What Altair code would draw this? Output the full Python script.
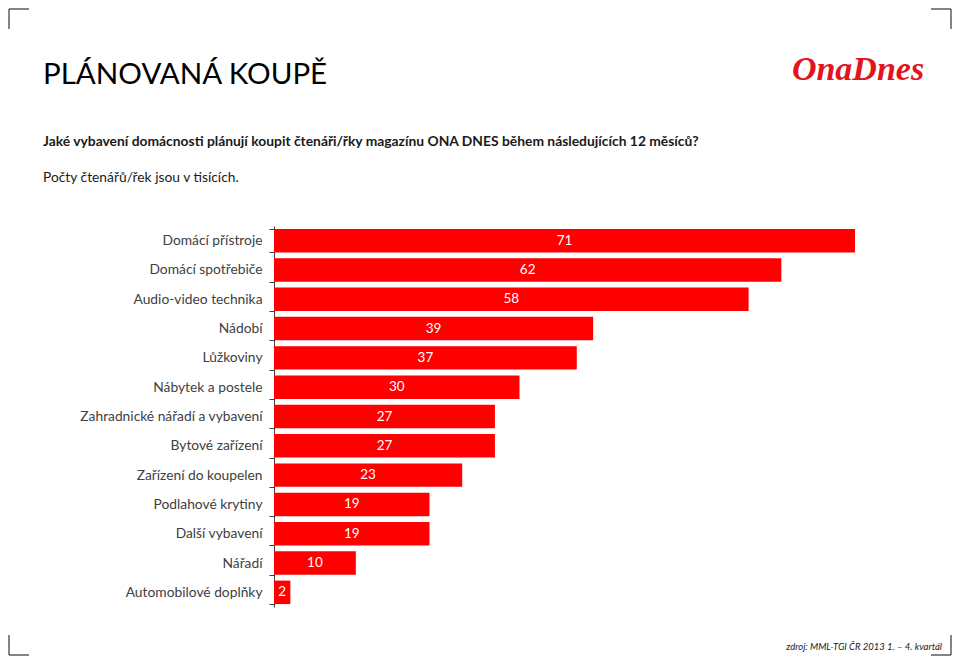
import altair as alt
import pandas as pd

categories = [
    "Domácí přístroje", "Domácí spotřebiče", "Audio-video technika", "Nádobí",
    "Lůžkoviny", "Nábytek a postele", "Zahradnické nářadí a vybavení",
    "Bytové zařízení", "Zařízení do koupelen", "Podlahové krytiny",
    "Další vybavení", "Nářadí", "Automobilové doplňky",
]
values = [71, 62, 58, 39, 37, 30, 27, 27, 23, 19, 19, 10, 2]

title_text = "PLÁNOVANÁ KOUPĚ"
question_text = "Jaké vybavení domácnosti plánují koupit čtenáři/řky magazínu ONA DNES během následujících 12 měsíců?"
subtitle_text = "Počty čtenářů/řek jsou v tisících."
logo_text = "OnaDnes"
source_text = "zdroj: MML-TGI ČR 2013 1. – 4. kvartál"

df = pd.DataFrame({"cat": categories, "val": values})

FONT = "Lato"
RED = "#ff0000"

y_enc = alt.Y(
    "cat:N", sort=categories, title=None,
    scale=alt.Scale(paddingInner=0.2, paddingOuter=0.1),
    axis=alt.Axis(
        tickBand="extent", ticks=True, domainColor="#404040", tickColor="#404040",
        tickSize=5, labelPadding=7, labelFont=FONT, labelFontSize=13.8,
        labelColor="#404040", labelLimit=300, grid=False,
    ),
)
x_enc = alt.X("val:Q", title=None, scale=alt.Scale(domain=[0, 71], nice=False), axis=None)

bars = alt.Chart(df).mark_bar(color=RED).encode(y=y_enc, x=x_enc)
labels = alt.Chart(df).transform_calculate(mid="datum.val / 2").mark_text(
    color="white", font=FONT, fontSize=13.5, baseline="middle"
).encode(y=alt.Y("cat:N", sort=categories), x=alt.X("mid:Q"), text=alt.Text("val:Q"))


def txt(s, x, y, size, **kw):
    return alt.Chart(pd.DataFrame({"t": [s]})).mark_text(
        fontSize=size, baseline="alphabetic", **kw
    ).encode(x=alt.value(x), y=alt.value(y), text="t:N")


title = txt(title_text, -231, -142, 29.5, align="left", font=FONT, color="#000000")
question = txt(question_text, -231, -80, 13.85, align="left", font=FONT, fontWeight="bold", color="#1a1a1a")
subtitle = txt(subtitle_text, -231, -44, 13.8, align="left", font=FONT, color="#1a1a1a")
logo = txt(logo_text, 584, -146, 34, align="center", font="Liberation Serif",
           fontWeight="bold", fontStyle="italic", color="#e3141b")
source = txt(source_text, 668, 424, 9.5, align="right", font=FONT, fontStyle="italic", color="#1a1a1a")


def rule(x1, x2, y1, y2):
    return alt.Chart(pd.DataFrame({"a": [0]})).mark_rule(color="#333333", strokeWidth=1.2).encode(
        x=alt.value(x1), x2=alt.value(x2), y=alt.value(y1), y2=alt.value(y2)
    )


L, R, T, B = -265, 677, -217, 429
corners = [
    rule(L, L + 20, T, T), rule(L, L, T, T + 20),
    rule(R - 20, R, T, T), rule(R, R, T, T + 20),
    rule(L, L + 20, B, B), rule(L, L, B - 20, B),
    rule(R - 20, R, B, B), rule(R, R, B - 20, B),
]

chart = alt.layer(bars, labels, title, question, subtitle, logo, source, *corners).properties(
    width=581, height=381,
    background="white",
    autosize=alt.AutoSizeParams(type="none"),
    padding={"left": 266, "top": 218, "right": 97, "bottom": 49},
).configure_view(stroke=None)

chart.save("out.html", embed_options={"renderer": "svg", "actions": False})
